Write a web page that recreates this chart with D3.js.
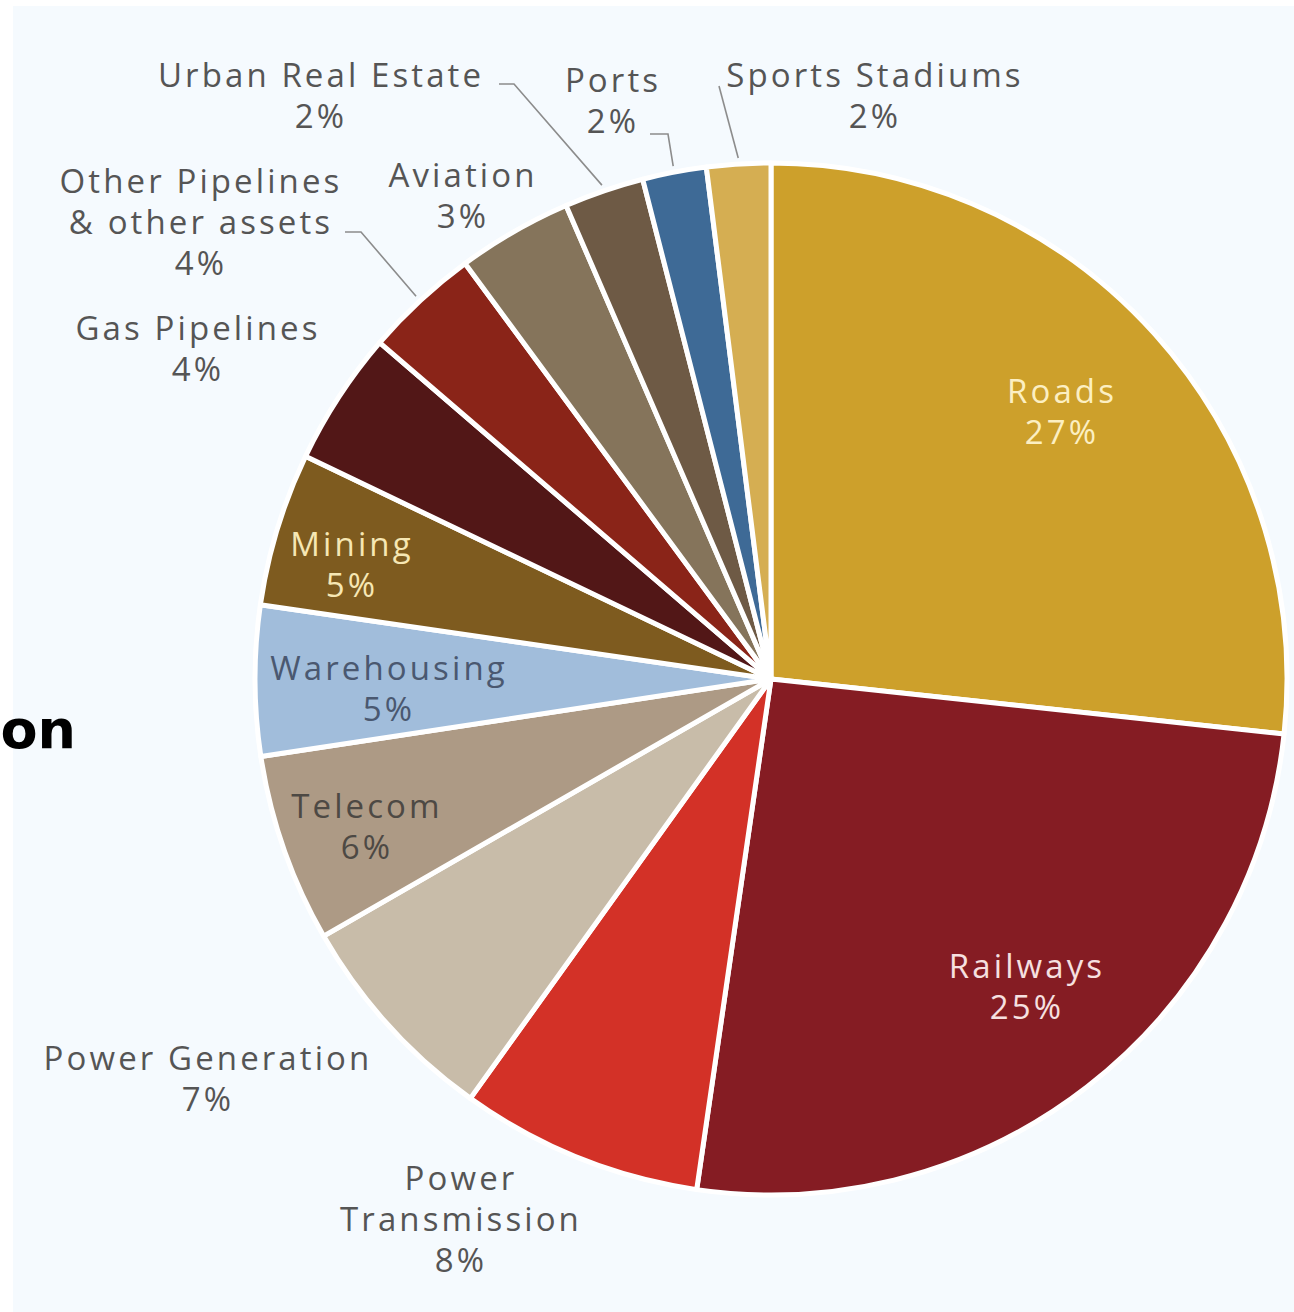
<!DOCTYPE html>
<html>
<head>
<meta charset="utf-8">
<script src="https://cdn.jsdelivr.net/npm/d3@7"></script>
<style>
  html, body { margin: 0; padding: 0; background: #ffffff; }
  svg { display: block; }
</style>
</head>
<body>
<svg id="pie-svg"></svg>
<script>
// data, clockwise from 12 o'clock
const categories = [
  "Roads", "Railways", "Power Transmission", "Power Generation", "Telecom",
  "Warehousing", "Mining", "Gas Pipelines", "Other Pipelines & other assets",
  "Aviation", "Urban Real Estate", "Ports", "Sports Stadiums"
];
// slice sizes as drawn in the picture (unrounded)
const shares = [26.7, 25.6, 7.6, 6.8, 5.9, 4.7, 4.8, 4.2, 3.6, 3.6, 2.5, 2.0, 2.0];
// rounded percentages printed on the labels
const labelPct = ["27%", "25%", "8%", "7%", "6%", "5%", "5%", "4%", "4%", "3%", "2%", "2%", "2%"];
const labelLines = [
  ["Roads"], ["Railways"], ["Power", "Transmission"], ["Power Generation"], ["Telecom"],
  ["Warehousing"], ["Mining"], ["Gas Pipelines"], ["Other Pipelines", "& other assets"],
  ["Aviation"], ["Urban Real Estate"], ["Ports"], ["Sports Stadiums"]
];

const sliceColors = [
  "#cda02b", "#851c23", "#d33127", "#c8bca9", "#ad9a85",
  "#a1bddb", "#7e5b1f", "#521717", "#8a2418",
  "#85745b", "#6e5a45", "#3e6a96", "#d5ae52"
];

// label placement (center x, first baseline y), colour, leader elbow
const labelLayout = {
  "Roads": { x: 1062, y: 403, color: "#fcefc2" },
  "Railways": { x: 1027, y: 978, color: "#f6e0e0" },
  "Power Transmission": { x: 461, y: 1190, color: "#555555" },
  "Power Generation": { x: 208, y: 1070, color: "#555555" },
  "Telecom": { x: 367, y: 818, color: "#4d4944" },
  "Warehousing": { x: 389, y: 680, color: "#4a5870" },
  "Mining": { x: 352, y: 556, color: "#f6e7b4" },
  "Gas Pipelines": { x: 198, y: 340, color: "#555555" },
  "Other Pipelines & other assets": { x: 201, y: 193, color: "#555555",
    leader: [[345, 232], [361, 232]] },
  "Aviation": { x: 463, y: 187, color: "#555555" },
  "Urban Real Estate": { x: 321, y: 87, color: "#555555",
    leader: [[499, 84], [514, 84]] },
  "Ports": { x: 613, y: 92, color: "#555555",
    leader: [[650, 134], [668, 134]] },
  "Sports Stadiums": { x: 875, y: 87, color: "#555555",
    leader: [[719, 86]] }
};

const W = 1294, H = 1312;
const cx = 771, cy = 679, R = 516;
const fontFamily = "'Open Sans', 'Noto Sans', sans-serif";
const lineH = 41;

const svg = d3.select("#pie-svg").attr("width", W).attr("height", H);

// panel background
svg.append("rect")
  .attr("x", 13).attr("y", 6)
  .attr("width", W - 13).attr("height", H - 6)
  .attr("fill", "#f5fafe");

// cut-off title fragment at the left
svg.append("text")
  .attr("x", 76).attr("y", 748)
  .attr("text-anchor", "end")
  .attr("font-family", "'DejaVu Sans', sans-serif")
  .attr("font-weight", "bold")
  .attr("font-size", 54)
  .attr("fill", "#000")
  .text("on");

const data = categories.map((c, i) => ({
  name: c, value: shares[i], pct: labelPct[i], lines: labelLines[i], color: sliceColors[i]
}));

const pie = d3.pie().sort(null).value((d) => d.value);
const arcs = pie(data);
const arc = d3.arc().innerRadius(0).outerRadius(R);
const edgeArc = d3.arc().innerRadius(R + 6).outerRadius(R + 6);

const g = svg.append("g").attr("transform", `translate(${cx},${cy})`);

g.selectAll("path.slice")
  .data(arcs)
  .join("path")
  .attr("class", "slice")
  .attr("d", arc)
  .attr("fill", (d) => d.data.color)
  .attr("stroke", "#ffffff")
  .attr("stroke-width", 5)
  .attr("stroke-linejoin", "round");

// leader lines
const leaders = arcs.filter((d) => labelLayout[d.data.name].leader);
svg.selectAll("polyline.leader")
  .data(leaders)
  .join("polyline")
  .attr("class", "leader")
  .attr("fill", "none")
  .attr("stroke", "#8c8c8c")
  .attr("stroke-width", 1.6)
  .attr("points", (d) => {
    const [ex, ey] = edgeArc.centroid(d);
    const pts = labelLayout[d.data.name].leader.concat([[cx + ex, cy + ey]]);
    return pts.map((p) => p.join(",")).join(" ");
  });

// labels, one text per line
const labelRows = [];
arcs.forEach((d) => {
  const lay = labelLayout[d.data.name];
  d.data.lines.concat([d.data.pct]).forEach((l, i) => {
    labelRows.push({ text: l, x: lay.x, y: lay.y + i * lineH, color: lay.color });
  });
});

svg.selectAll("text.label")
  .data(labelRows)
  .join("text")
  .attr("class", "label")
  .attr("text-anchor", "middle")
  .attr("font-family", fontFamily)
  .attr("font-size", 33)
  .attr("letter-spacing", 3.1)
  .attr("fill", (d) => d.color)
  .attr("x", (d) => d.x)
  .attr("y", (d) => d.y)
  .text((d) => d.text);
</script>
</body>
</html>
